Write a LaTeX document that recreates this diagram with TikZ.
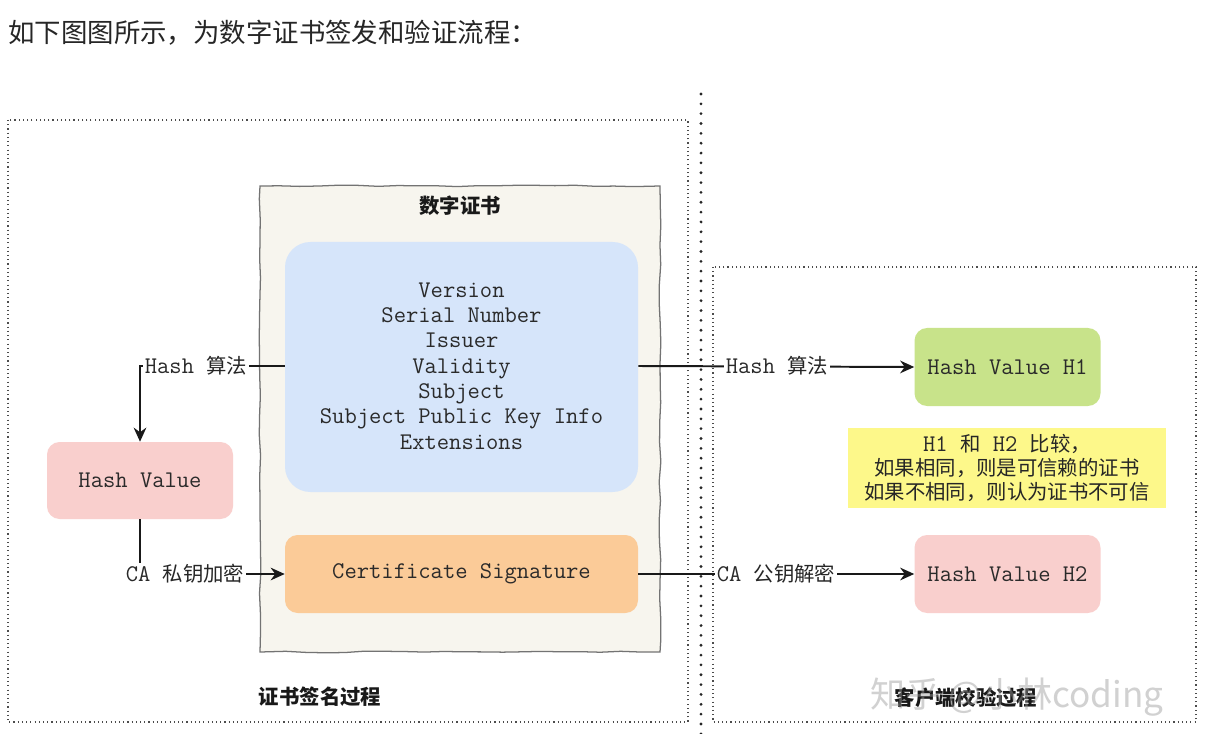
\documentclass[tikz,border=0pt]{standalone}
\usepackage{fontspec}
\setmainfont{Noto Sans CJK SC}
\usetikzlibrary{arrows.meta,decorations.pathmorphing}
\definecolor{certbg}{HTML}{F7F5EE}
\definecolor{blueb}{HTML}{D6E5FA}
\definecolor{orangeb}{HTML}{FBCB98}
\definecolor{pinkb}{HTML}{F9CFCD}
\definecolor{greenb}{HTML}{C8E38A}
\definecolor{yellowb}{HTML}{FDF88A}
\definecolor{txt}{HTML}{2A2A2A}
\newcommand{\mt}[1]{{\color{txt}\ttfamily\fontsize{17}{18}\selectfont#1}}
\tikzset{
  px/.style={x=0.025cm,y=-0.025cm},
  mono/.style={font=\ttfamily\fontsize{17}{18}\selectfont, text=txt},
  boxr/.style={rounded corners=9pt, draw=none, inner sep=0pt},
  lbl/.style={fill=white, inner sep=1pt, font=\fontsize{14.5}{17}\selectfont, text=black!85},
  conn/.style={line width=1.4pt, black!90},
  arr/.style={conn, -{Stealth[length=10pt,width=9pt]}},
  dotbox/.style={draw=black!70, line width=0.8pt, dash pattern=on 0.8pt off 2.2pt},
  bigdots/.style={draw=black!85, line width=2.2pt, line cap=round, dash pattern=on 0pt off 7pt},
  title/.style={font=\bfseries\fontsize{14.5}{17}\selectfont, text=black!90},
}
\begin{document}
\begin{tikzpicture}[px]
\useasboundingbox (0,0) rectangle (1214,734);
\fill[white] (0,0) rectangle (1214,734);
% top title
\node[anchor=west, inner sep=0pt, font=\fontsize{18.8}{22}\selectfont, text=black!85] (hdr) at (8,33) {如下图图所示，为数字证书签发和验证流程：};
% dotted frames
\draw[dotbox] (8,120) rectangle (688,722);
\draw[dotbox] (713,267) rectangle (1196,722);
\coordinate (vt) at (701,94);
\coordinate (vb) at (701,734);
\draw[bigdots] (vt) -- (vb);
% certificate box
\pgfmathsetseed{7}
\fill[certbg] (260,186) rectangle (660,652);
\draw[black!55, line width=0.9pt, decorate, decoration={random steps, segment length=14pt, amplitude=0.6pt}] (260,186) -- (660,186) -- (660,652) -- (260,652) -- cycle;
\node[title] (cert) at (460,206) {数字证书};
% blue box
\fill[blueb, rounded corners=18pt] (285,242) rectangle (638,492);
\node[inner sep=0pt, minimum width=353*0.025cm, minimum height=250*0.025cm] (blue) at (461.5,367) {};
\node[mono, align=center] (fields) at (461.5,366) {Version\\Serial Number\\Issuer\\Validity\\Subject\\Subject Public Key Info\\Extensions};
% orange box
\node[boxr, fill=orangeb, minimum width=353*0.025cm, minimum height=78*0.025cm, mono] (sig) at (461.5,574) {Certificate Signature};
% left pink
\node[boxr, fill=pinkb, minimum width=186*0.025cm, minimum height=77*0.025cm, mono] (hv) at (140,480.5) {Hash Value};
% green
\node[boxr, fill=greenb, minimum width=186*0.025cm, minimum height=78*0.025cm, mono] (h1) at (1007.5,367) {Hash Value H1};
% pink right
\node[boxr, fill=pinkb, minimum width=186*0.025cm, minimum height=78*0.025cm, mono] (h2) at (1007.5,574) {Hash Value H2};
% yellow
\node[fill=yellowb, minimum width=318*0.025cm, minimum height=80*0.025cm, inner sep=0pt, align=center, font=\fontsize{14.5}{17}\selectfont, text=black!85] (cmp) at (1007,468) {\mt{H1 }和\mt{ H2 }比较，\\如果相同，则是可信赖的证书\\如果不相同，则认为证书不可信};
% connectors left
\draw[arr] (blue.west |- 0,366) -| (hv.north);
\node[lbl] (l1) at (196,366) {\mt{Hash }算法};
\draw[arr] (hv.south) |- (sig.west);
\node[lbl] (l2) at (185,574) {\mt{CA }私钥加密};
% connectors right
\draw[arr] (blue.east |- 0,366) -- (h1.west);
\node[lbl] (l3) at (777,366) {\mt{Hash }算法};
\draw[arr] (sig.east) -- (h2.west);
\node[lbl] (l4) at (776,574) {\mt{CA }公钥解密};
% bottom titles
\node[title] (t1) at (320,697) {证书签名过程};
\node[title] (t2) at (966,698) {客户端校验过程};
% watermark
\node[text=black!40, opacity=0.45, font=\fontsize{25}{27}\selectfont, inner sep=0pt] (wm) at (1017,697) {知乎 @小林coding};
\end{tikzpicture}
\end{document}
